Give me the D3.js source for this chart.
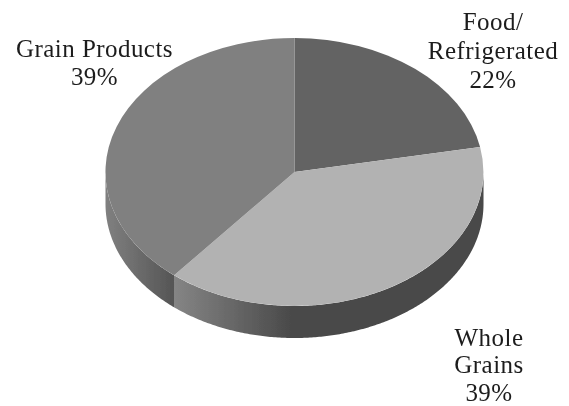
<!DOCTYPE html>
<html>
<head>
<meta charset="utf-8">
<script src="https://cdn.jsdelivr.net/npm/d3@7"></script>
<style>
  html, body { margin: 0; padding: 0; background: #fff; }
  text { font-family: "Liberation Serif", serif; font-size: 25px; letter-spacing: 0.45px; fill: #1c1c1c; }
</style>
</head>
<body>
<div id="chart"></div>
<script>
const categories = ["Food/ Refrigerated", "Whole Grains", "Grain Products"];
const shares = [22, 39, 39];
const topColors = ["#636363", "#b2b2b2", "#808080"];

const width = 569;
const height = 406;
const cx = 294.5, cy = 172, rx = 189, ry = 134, depth = 32;

// unit circle -> squashed ellipse
const x = d3.scaleLinear().domain([-1, 1]).range([cx - rx, cx + rx]);
const y = d3.scaleLinear().domain([-1, 1]).range([cy - ry, cy + ry]);

const svg = d3.select("#chart").append("svg")
  .attr("width", width)
  .attr("height", height)
  .style("display", "block");

const defs = svg.append("defs");
defs.append("filter").attr("id", "soft")
  .append("feGaussianBlur").attr("stdDeviation", 0.45);

const pie = d3.pie().sort(null)(shares);
const arc = d3.arc().innerRadius(0).outerRadius(1);

// side wall gradients run left to right in page space
function wallGradient(id, x1, x2, stops) {
  const g = defs.append("linearGradient").attr("id", id)
    .attr("gradientUnits", "userSpaceOnUse")
    .attr("x1", x1).attr("x2", x2).attr("y1", 0).attr("y2", 0);
  stops.forEach(s => g.append("stop").attr("offset", s[0]).attr("stop-color", s[1]));
}
wallGradient("wall1", x(Math.sin(pie[1].endAngle)), cx, [[0, "#858585"], [1, "#484848"]]);
wallGradient("wall2", x(-1), x(Math.sin(pie[1].endAngle)), [[0, "#808080"], [1, "#555555"]]);

const wall = d3.area()
  .x(a => x(Math.sin(a)))
  .y0(a => y(-Math.cos(a)))
  .y1(a => y(-Math.cos(a)) + depth);

const angles = (a0, a1) => d3.range(a0, a1, 0.01).concat([a1]);

const art = svg.append("g").attr("filter", "url(#soft)");

// only the front half of the rim shows
art.append("path")
  .attr("d", wall(angles(Math.PI / 2, pie[1].endAngle)))
  .attr("fill", "url(#wall1)");
art.append("path")
  .attr("d", wall(angles(pie[2].startAngle, Math.PI * 1.5)))
  .attr("fill", "url(#wall2)");

art.append("g")
  .attr("transform", `translate(${cx},${cy}) scale(${rx},${ry})`)
  .selectAll("path")
  .data(pie)
  .join("path")
  .attr("d", arc)
  .attr("fill", (d, i) => topColors[i]);

// labels, one line per row
const labelRows = [
  ["Food/", "Refrigerated", shares[0] + "%"],
  ["Whole", "Grains", shares[1] + "%"],
  ["Grain Products", shares[2] + "%"]
];
const labelAt = [[493, 30], [489, 345.5], [94.5, 57]];
const lineGaps = [29, 27.5, 28];

svg.append("g").attr("filter", "url(#soft)")
  .selectAll("text")
  .data(labelRows.map((rows, k) => rows.map(r => ({ r, gap: lineGaps[k] }))))
  .join("text")
  .attr("text-anchor", "middle")
  .attr("transform", (d, i) => `translate(${labelAt[i][0]},${labelAt[i][1]})`)
  .selectAll("tspan")
  .data(d => d)
  .join("tspan")
  .attr("x", 0)
  .attr("y", (d, i) => i * d.gap)
  .text(d => d.r);
</script>
</body>
</html>
